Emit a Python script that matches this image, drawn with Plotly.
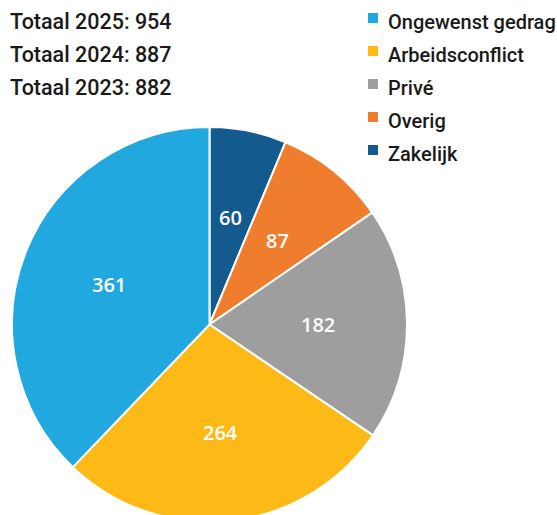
import math
import plotly.graph_objects as go

categories = ["Zakelijk", "Overig", "Privé", "Arbeidsconflict", "Ongewenst gedrag"]
values = [60, 87, 182, 264, 361]
colors = ["#135a8e", "#ef7d2d", "#9e9e9e", "#fdb916", "#21a8df"]
legend_order = ["Ongewenst gedrag", "Arbeidsconflict", "Privé", "Overig", "Zakelijk"]
totals = [("2025", 954), ("2024", 887), ("2023", 882)]

W, H = 557, 530
CX, CY, R = 209.5, 324.5, 197.5

fig = go.Figure(go.Pie(
    labels=categories,
    values=values,
    sort=False,
    direction="clockwise",
    rotation=0,
    marker=dict(colors=colors, line=dict(color="white", width=2)),
    textinfo="none",
    domain=dict(x=[(CX - R) / W, (CX + R) / W], y=[1 - (CY + R) / H, 1 - (CY - R) / H]),
    showlegend=False,
    hoverinfo="label+value",
))

annotations = []
# slice value labels placed along each slice's bisector
total = sum(values)
cum = 0
for v in values:
    mid = (cum + v / 2) / total * 2 * math.pi
    cum += v
    frac = 0.55
    x = CX + frac * R * math.sin(mid)
    y = CY - frac * R * math.cos(mid)
    annotations.append(dict(
        x=x / W, y=1 - y / H, xref="paper", yref="paper",
        xanchor="center", yanchor="middle", showarrow=False,
        text=str(v),
        font=dict(family="Open Sans", size=20, color="white", weight=600),
    ))

for i, (yr, tot) in enumerate(totals):
    annotations.append(dict(
        x=8 / W, y=1 - (22 + 33 * i) / H, xref="paper", yref="paper",
        xanchor="left", yanchor="middle", showarrow=False,
        text=f"Totaal {yr}: {tot}",
        font=dict(family="Roboto", size=21.5, color="#1a1a1a", weight=500),
    ))

shapes = []
color_map = dict(zip(categories, colors))
for i, name in enumerate(legend_order):
    yc = 22 + 33 * i
    shapes.append(dict(
        type="rect", xref="paper", yref="paper",
        x0=368 / W, x1=378 / W, y0=1 - (yc - 9) / H, y1=1 - (yc + 1) / H,
        fillcolor=color_map[name], line=dict(width=0),
    ))
    annotations.append(dict(
        x=386 / W, y=1 - yc / H, xref="paper", yref="paper",
        xanchor="left", yanchor="middle", showarrow=False,
        text=name,
        font=dict(family="Roboto", size=20, color="#1a1a1a", weight=500),
    ))

fig.update_layout(
    width=W, height=H, autosize=False,
    margin=dict(l=0, r=0, t=0, b=0),
    paper_bgcolor="white", plot_bgcolor="white",
    annotations=annotations, shapes=shapes,
)

fig.write_html("out.html")
